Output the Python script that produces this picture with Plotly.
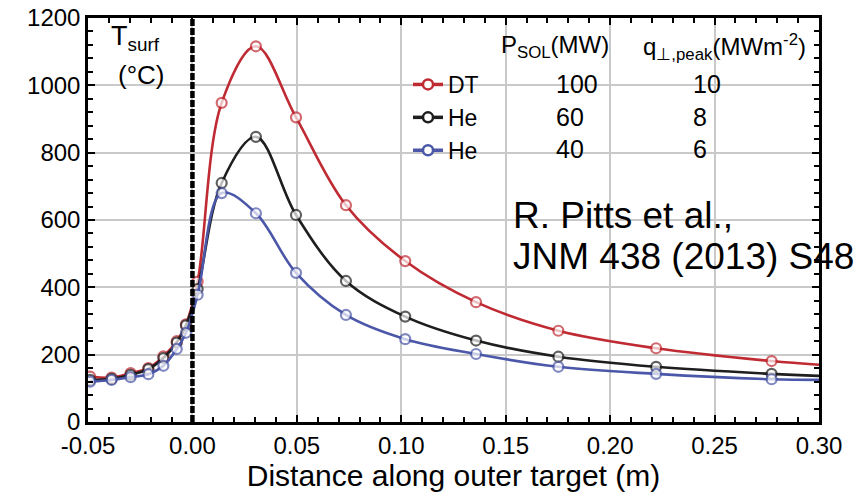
import plotly.graph_objects as go

# ---------------- data ----------------
distance = [-0.049, -0.0387, -0.0296, -0.0211, -0.0139, -0.0075, -0.0031, 0.0025,
            0.014, 0.0304, 0.0496, 0.0735, 0.1019, 0.1358, 0.1752, 0.222, 0.2773, 0.30]
t_dt100 = [135, 132, 145, 160, 195, 240, 290, 417, 948, 1116, 905, 644, 478, 356, 271, 219, 181, 170]
t_he60 = [125, 128, 140, 157, 190, 236, 287, 395, 710, 847, 615, 419, 313, 242, 194, 164, 143, 137]
t_he40 = [120, 125, 133, 142, 167, 217, 265, 378, 680, 620, 443, 318, 246, 202, 164, 143, 127, 125]
has_marker = [True] * 17 + [False]

series_names = ["DT", "He", "He"]
psol_mw = ["100", "60", "40"]
qpeak = ["10", "8", "6"]
series_colors = ["#bf2a33", "#1e1e1e", "#4b57a8"]

x_tickvals = [-0.05, 0.0, 0.05, 0.10, 0.15, 0.20, 0.25, 0.30]
x_ticktext = ["-0.05", "0.00", "0.05", "0.10", "0.15", "0.20", "0.25", "0.30"]
y_tickvals = [0, 200, 400, 600, 800, 1000, 1200]
target_edge = 0.0

# ---------------- layout helpers (page pixel -> paper) ----------------
PAGE_W, PAGE_H = 866, 498
OFF = 8  # default body margin of the html page
W, H = PAGE_W - OFF, PAGE_H - OFF
L, R, T, B = 88, 819, 18, 422  # plot area in page pixels


def px_x(p):
    return (p - L) / (R - L)


def px_y(p):
    return (B - p) / (B - T)


FONT = "Liberation Sans, Arial, sans-serif"

fig = go.Figure()
for ys, name, col in zip([t_dt100, t_he60, t_he40], series_names, series_colors):
    fig.add_trace(go.Scatter(
        x=distance, y=ys, mode="lines+markers", name=name, showlegend=False,
        line=dict(color=col, width=2.6, shape="spline", smoothing=1.0),
        marker=dict(symbol="circle", size=[10 if m else 0 for m in has_marker],
                    color="white", line=dict(color=col, width=2.2)),
        hoverinfo="skip",
    ))
    # legend entry
    fig.add_trace(go.Scatter(
        x=[None], y=[None], mode="lines+markers", name=name, showlegend=True,
        line=dict(color=col, width=3.5),
        marker=dict(symbol="circle", size=10, color="white", line=dict(color=col, width=2.5)),
    ))

fig.add_shape(type="line", xref="x", yref="paper", x0=target_edge, x1=target_edge, y0=0, y1=1,
              line=dict(color="black", width=4.5, dash="7px,2px"), layer="above")

ann = []
ann.append(dict(x=px_x(109), y=px_y(38), text="T<sub>surf</sub>", xanchor="left", yanchor="middle",
                font=dict(size=27)))
ann.append(dict(x=px_x(141), y=px_y(75), text="(°C)", xanchor="center", yanchor="middle",
                font=dict(size=26)))
ann.append(dict(x=px_x(499), y=px_y(47), text="P<sub>SOL</sub>(MW)", xanchor="left", yanchor="middle",
                font=dict(size=24)))
ann.append(dict(x=px_x(641), y=px_y(47), text="q<sub>⊥,peak</sub>(MWm<sup>-2</sup>)", xanchor="left",
                yanchor="middle", font=dict(size=24)))
row_y = [84, 117, 149]
for ry, p, q in zip(row_y, psol_mw, qpeak):
    ann.append(dict(x=px_x(554), y=px_y(ry), text=p, xanchor="left", yanchor="middle", font=dict(size=25)))
    ann.append(dict(x=px_x(691), y=px_y(ry), text=q, xanchor="left", yanchor="middle", font=dict(size=25)))
ann.append(dict(x=px_x(511), y=px_y(215), text="R. Pitts et al.,", xanchor="left", yanchor="middle",
                font=dict(size=37)))
ann.append(dict(x=px_x(511), y=px_y(256), text="JNM 438 (2013) S48", xanchor="left", yanchor="middle",
                font=dict(size=37)))
for a in ann:
    a.update(xref="paper", yref="paper", showarrow=False)
    a["font"].update(family=FONT, color="black")

fig.update_layout(
    width=W, height=H,
    margin=dict(l=L - OFF, r=PAGE_W - R, t=T - OFF, b=PAGE_H - B, autoexpand=False),
    paper_bgcolor="white", plot_bgcolor="white",
    font=dict(family=FONT, color="black"),
    annotations=ann,
    legend=dict(x=px_x(408), y=px_y(63), xanchor="left", yanchor="top",
                bgcolor="rgba(0,0,0,0)", font=dict(size=23, family=FONT, color="black"),
                itemwidth=30, tracegroupgap=0),
    xaxis=dict(
        range=[-0.05, 0.30], tickvals=x_tickvals, ticktext=x_ticktext, automargin=False,
        ticklabeloverflow="allow",
        showgrid=True, gridcolor="#c9c9c9", gridwidth=2, zeroline=False,
        showline=True, linecolor="black", linewidth=2.5, mirror="ticks",
        ticks="inside", ticklen=7, tickwidth=2, tickcolor="black",
        tickfont=dict(size=24, family=FONT, color="black"),
        minor=dict(dtick=0.01, ticks="inside", ticklen=5, tickwidth=1.5, tickcolor="black", showgrid=False),
        title=dict(text="Distance along outer target (m)", font=dict(size=30, family=FONT, color="black"),
                   standoff=6),
    ),
    yaxis=dict(
        range=[0, 1200], tickvals=y_tickvals, automargin=False,
        ticklabeloverflow="allow",
        showgrid=True, gridcolor="#c9c9c9", gridwidth=2, zeroline=False,
        showline=True, linecolor="black", linewidth=2.5, mirror="ticks",
        ticks="inside", ticklen=7, tickwidth=2, tickcolor="black",
        tickfont=dict(size=24, family=FONT, color="black"),
        minor=dict(dtick=40, ticks="inside", ticklen=5, tickwidth=1.5, tickcolor="black", showgrid=False),
    ),
)

fig.write_html("out.html")
